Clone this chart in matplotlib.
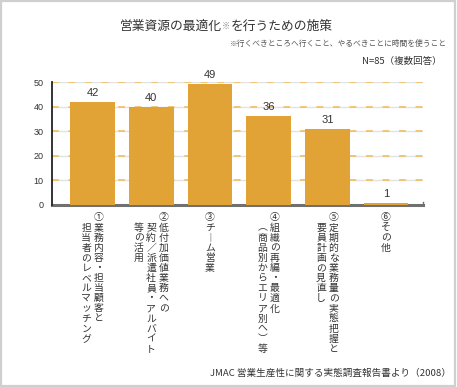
import matplotlib
matplotlib.use("Agg")
import matplotlib.pyplot as plt
from matplotlib.patches import Rectangle

plt.rcParams['font.family'] = ['Noto Sans CJK JP', 'DejaVu Sans']

# data
values = [42, 40, 49, 36, 31, 1]
# category labels, written vertically: one list of columns per bar (right column first)
labels = [
    ["①業務内容・担当顧客と", "担当者のレベルマッチング"],
    ["②低付加価値業務への", "契約／派遣社員・アルバイト", "等の活用"],
    ["③チーム営業"],
    ["④組織の再編・最適化", "（商品別からエリア別へ）等"],
    ["⑤定期的な業務量の実態把握と", "要員計画の見直し"],
    ["⑥その他"],
]
yticks = [0, 10, 20, 30, 40, 50]

title_a = "営業資源の最適化"
title_mark = "※"
title_b = "を行うための施策"
note = "※行くべきところへ行くこと、やるべきことに時間を使うこと"
n_text = "N=85（複数回答）"
source = "JMAC 営業生産性に関する実態調査報告書より（2008）"

# vertical writing forms
vert = {"ー": "︱", "（": "︵", "）": "︶"}

bar_color = "#e1a236"
text_color = "#333333"

fig = plt.figure(figsize=(4.57, 3.87), dpi=100)
ax = fig.add_axes([0.1138, 0.4703, 0.9256 - 0.1138, 0.7881 - 0.4703])

x = list(range(len(values)))
ax.bar(x, values, width=0.76, color=bar_color, zorder=2)
ax.set_xlim(-0.69, 5.63)
ax.set_ylim(0, 50)

# grid: light gray line under orange dashes
for yv in yticks[1:]:
    ax.axhline(yv, color="#e2e2e2", lw=1.0, zorder=0.5)
    ax.axhline(yv, color="#f2c47a", lw=1.4, dashes=(3.5, 5), zorder=0.6)

ax.spines["top"].set_visible(False)
ax.spines["left"].set_color("#222222")
ax.spines["left"].set_linewidth(1.3)
ax.spines["bottom"].set_color("#707070")
ax.spines["bottom"].set_linewidth(2.2)
ax.spines["bottom"].set_zorder(1.5)
ax.spines["right"].set_color("#707070")
ax.spines["right"].set_linewidth(1.0)
ax.spines["right"].set_bounds(0, 1.3)

ax.set_xticks([])
ax.set_yticks(yticks)
ax.tick_params(axis="y", length=0, pad=6, labelsize=6.5, labelcolor=text_color)
for lab in ax.get_yticklabels():
    lab.set_family("Liberation Sans")

# value labels
for xi, v in zip(x, values):
    ax.annotate(str(v), xy=(xi, v), xytext=(0, 4), textcoords="offset pixels",
                ha="center", va="bottom", fontsize=8, color=text_color,
                family="Liberation Sans")

# vertical category labels, one character at a time
col_gap = 12.5
pitch = 10.1
top = 12.5
for xi, cols in zip(x, labels):
    n = len(cols)
    for j, col in enumerate(cols):
        dx = (n - 1) / 2 * col_gap - j * col_gap
        start = top if j == 0 else top + pitch
        for k, ch in enumerate(col):
            ch = vert.get(ch, ch)
            ax.annotate(ch, xy=(xi, 0), xytext=(dx, -(start + k * pitch)),
                        textcoords="offset pixels", ha="center", va="center",
                        fontsize=7.1, color=text_color, annotation_clip=False)

# title with small mark
t1 = fig.text(0.263, 0.915, title_a, fontsize=9.2, color=text_color, ha="left", va="bottom")
t2 = ax.annotate(title_mark, xy=(1, 0), xycoords=t1, xytext=(0, 1.5),
                 textcoords="offset pixels", ha="left", va="bottom",
                 fontsize=6, color="#888888")
t3 = ax.annotate(title_b, xy=(1, 0), xycoords=t2, xytext=(0, -1.5),
                 textcoords="offset pixels", ha="left", va="bottom",
                 fontsize=9.2, color=text_color)

fig.text(0.978, 0.886, note, fontsize=5.6, color="#555555", ha="right", va="center")
fig.text(0.967, 0.840, n_text, fontsize=6.8, color=text_color, ha="right", va="center")
fig.text(0.987, 0.036, source, fontsize=6.9, color=text_color, ha="right", va="center")

# frame around the figure
fig.patches.append(Rectangle((0.003, 0.003), 0.992, 0.994, transform=fig.transFigure,
                             fill=False, ec="#cfcfcf", lw=1.6))

fig.savefig("out.png", dpi=100)
